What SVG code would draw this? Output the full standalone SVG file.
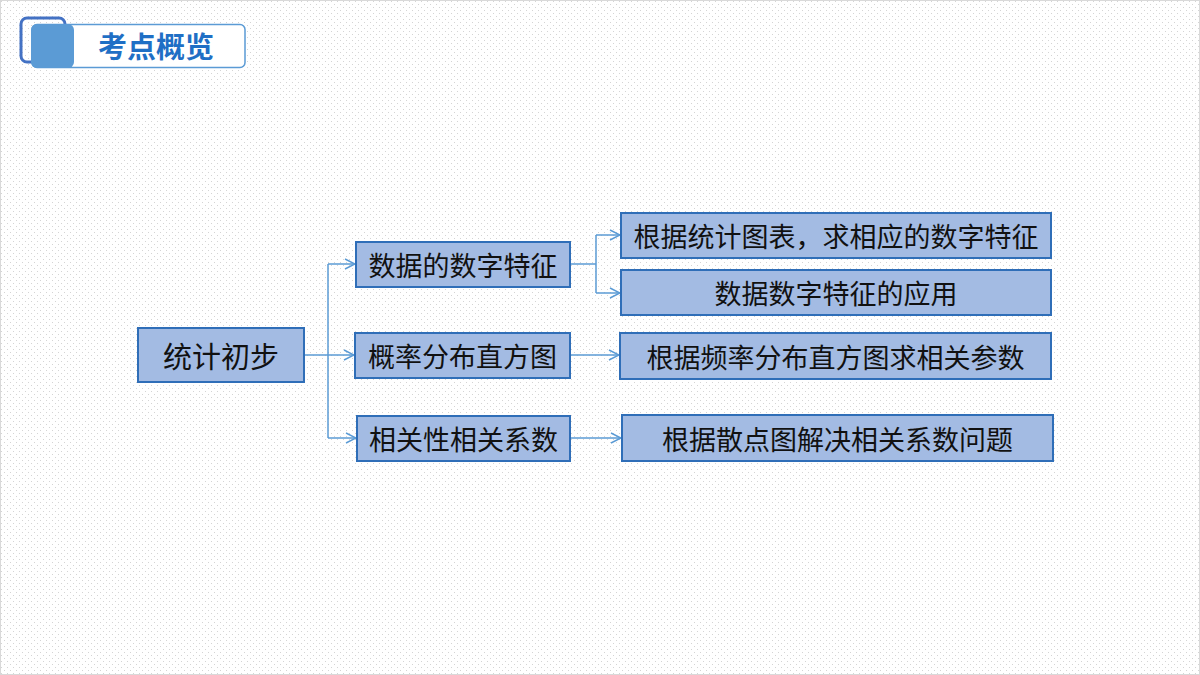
<svg xmlns="http://www.w3.org/2000/svg" width="1200" height="675" viewBox="0 0 1200 675">
<defs>
<pattern id="dots" width="6" height="6" patternUnits="userSpaceOnUse">
<rect x="1" y="1" width="1" height="1" fill="#d4d4d4"/>
<rect x="4" y="4" width="1" height="1" fill="#d4d4d4"/>
</pattern>
<marker id="arr" viewBox="0 0 12 12" refX="11" refY="6" markerWidth="12" markerHeight="12" markerUnits="userSpaceOnUse" orient="auto">
<path d="M1,1 L11,6 L1,11" fill="none" stroke="#5b9bd5" stroke-width="1.5"/>
</marker>
<style>
.box{fill:#a3bbe3;stroke:#2f6eb8;stroke-width:2}
.t{font-family:"Noto Sans CJK SC","Noto Sans",sans-serif;font-size:27px;fill:#111;text-anchor:middle;dominant-baseline:central}
.c{fill:none;stroke:#5b9bd5;stroke-width:1.5}
</style>
</defs>
<rect width="1200" height="675" fill="#ffffff"/>
<rect width="1200" height="675" fill="url(#dots)"/>
<rect x="0.5" y="0.5" width="1199" height="674" fill="none" stroke="#d9d9d9"/>

<g id="header">
<rect x="21" y="18" width="44" height="44" rx="6" fill="none" stroke="#4472c4" stroke-width="3"/>
<rect x="32" y="24.5" width="213" height="43" rx="5" fill="#ffffff" stroke="#5b9bd5" stroke-width="1.5"/>
<rect x="31" y="24" width="43" height="44" rx="6" fill="#5b9bd5"/>
<text x="156" y="45" style="font-family:'Noto Sans CJK SC',sans-serif;font-size:29px;font-weight:bold;fill:#1f6fc5;text-anchor:middle;dominant-baseline:central">考点概览</text>
</g>

<g id="connectors">
<path class="c" d="M304,355 H328"/>
<path class="c" d="M328,264 V438"/>
<path class="c" d="M328,264 H355" marker-end="url(#arr)"/>
<path class="c" d="M328,355 H354" marker-end="url(#arr)"/>
<path class="c" d="M328,438 H356" marker-end="url(#arr)"/>
<path class="c" d="M570,264 H596"/>
<path class="c" d="M596,235 V293"/>
<path class="c" d="M596,235 H620" marker-end="url(#arr)"/>
<path class="c" d="M596,293 H620" marker-end="url(#arr)"/>
<path class="c" d="M570,355 H619" marker-end="url(#arr)"/>
<path class="c" d="M570,438 H621" marker-end="url(#arr)"/>
</g>

<g id="root">
<rect class="box" x="138" y="328" width="166" height="54"/>
<text class="t" x="221" y="355" style="font-size:29px">统计初步</text>
</g>
<g id="n1">
<rect class="box" x="356" y="242" width="214" height="45"/>
<text class="t" x="463" y="264.5">数据的数字特征</text>
</g>
<g id="n2">
<rect class="box" x="355" y="333" width="215" height="45"/>
<text class="t" x="462.5" y="355.5">概率分布直方图</text>
</g>
<g id="n3">
<rect class="box" x="357" y="416" width="213" height="45"/>
<text class="t" x="463.5" y="438.5">相关性相关系数</text>
</g>
<g id="n1a">
<rect class="box" x="621" y="213" width="430" height="45"/>
<text class="t" x="836" y="235.5">根据统计图表，求相应的数字特征</text>
</g>
<g id="n1b">
<rect class="box" x="621" y="270" width="430" height="45"/>
<text class="t" x="836" y="292.5">数据数字特征的应用</text>
</g>
<g id="n2a">
<rect class="box" x="620" y="333" width="431" height="46"/>
<text class="t" x="835.5" y="356">根据频率分布直方图求相关参数</text>
</g>
<g id="n3a">
<rect class="box" x="622" y="415" width="431" height="46"/>
<text class="t" x="837.5" y="438">根据散点图解决相关系数问题</text>
</g>
</svg>
